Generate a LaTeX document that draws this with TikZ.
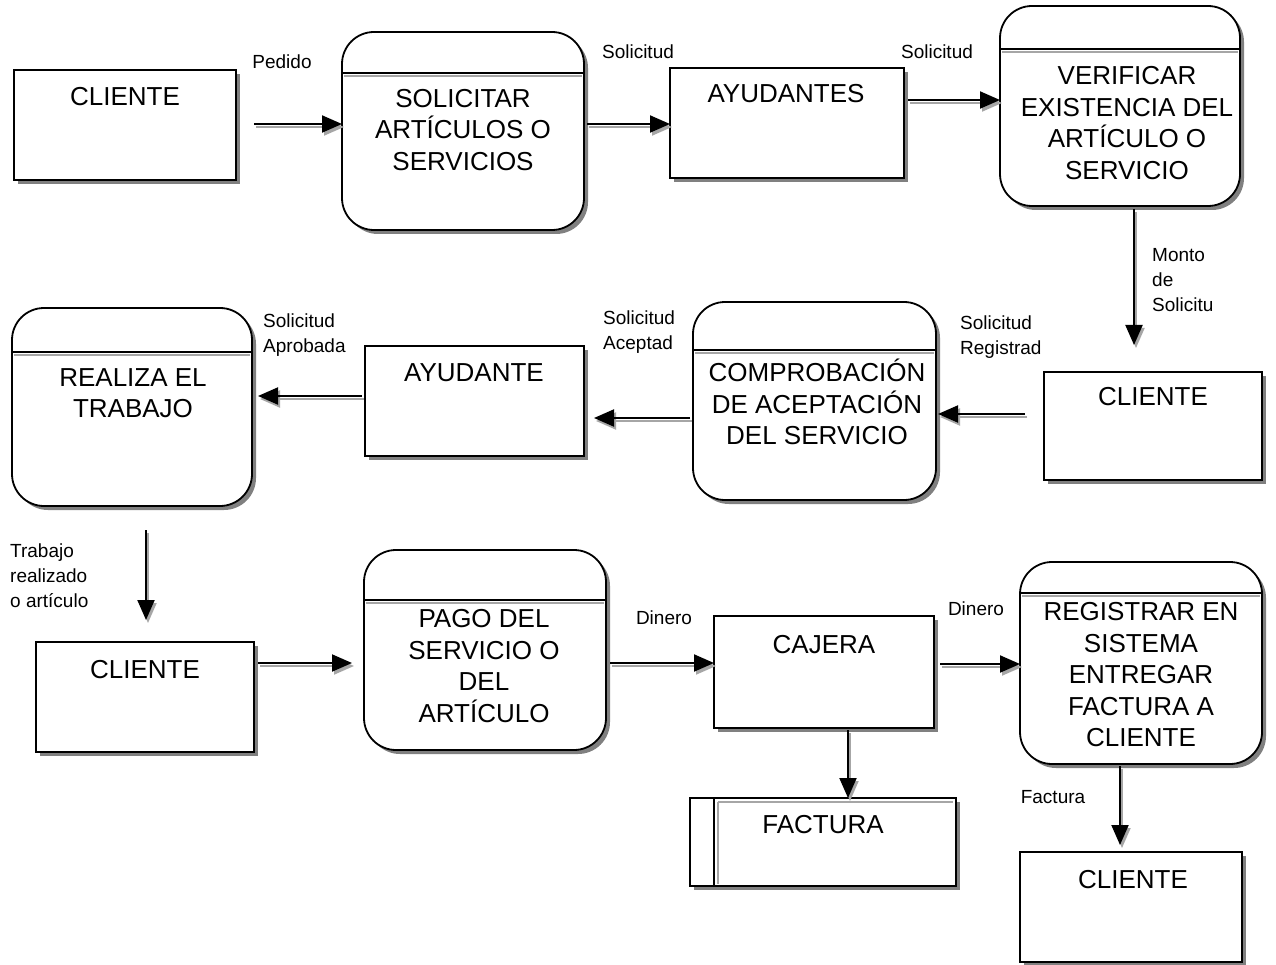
\documentclass[tikz,border=0pt]{standalone}
\usepackage{fontspec}
\setmainfont{Liberation Sans}
\usetikzlibrary{arrows.meta,shadows,calc}
\begin{document}
\begin{tikzpicture}[x=1pt,y=-1pt,
  shad/.style={drop shadow={shadow xshift=4pt,shadow yshift=-4pt,fill=black!50,opacity=1}},
  ent/.style={draw,line width=1.8pt,fill=white,shad,inner sep=0pt,outer sep=0pt},
  proc/.style={ent,rounded corners=32pt},
  txt/.style={font=\fontsize{26}{31.5}\selectfont,align=center,inner sep=0pt},
  lbl/.style={font=\fontsize{19}{25}\selectfont,align=left,inner sep=0pt},
  flow/.style={line width=2pt,-{Triangle[length=20pt,width=17pt]},
    preaction={draw=black!35,line width=2pt,transform canvas={shift={(2pt,-3pt)}}}}
]
\fill[white] (0,0) rectangle (1276,965);
\useasboundingbox (0,0) rectangle (1276,965);

% entities and processes
\node[ent,minimum width=222pt,minimum height=110pt] (c1) at (125,125) {};
\node[proc,minimum width=242pt,minimum height=198pt] (p1) at (463,131) {};
\node[ent,minimum width=234pt,minimum height=110pt] (a1) at (787,123) {};
\node[proc,minimum width=240pt,minimum height=200pt] (v1) at (1120,106) {};
\node[ent,minimum width=218pt,minimum height=108pt] (c2) at (1153,426) {};
\node[proc,minimum width=243pt,minimum height=198pt] (cp) at (814.5,401) {};
\node[ent,minimum width=219pt,minimum height=110pt] (a2) at (474.5,401) {};
\node[proc,minimum width=240pt,minimum height=198pt] (r) at (132,407) {};
\node[ent,minimum width=218pt,minimum height=110pt] (c3) at (145,697) {};
\node[proc,minimum width=242pt,minimum height=200pt] (pg) at (485,650) {};
\node[ent,minimum width=220pt,minimum height=112pt] (cj) at (824,672) {};
\node[proc,minimum width=242pt,minimum height=202pt] (rg) at (1141,663) {};
\node[ent,minimum width=266pt,minimum height=88pt] (f) at (823,842) {};
\node[ent,minimum width=222pt,minimum height=110pt] (c4) at (1131,907) {};

% process separators
\foreach \n/\o in {p1/41,v1/43,cp/48,r/44,pg/50,rg/31}{
  \draw[line width=1.6pt] ($(\n.north west)+(0,\o)$) -- ($(\n.north east)+(0,\o)$);
  \draw[black!35,line width=1.5pt] ($(\n.north west)+(2,\o+3)$) -- ($(\n.north east)+(-2,\o+3)$);
}
% data store inner line
\draw[line width=1.6pt] ($(f.north west)+(24,0)$) -- ($(f.south west)+(24,0)$);
\draw[black!35,line width=1.4pt] ($(f.north west)+(28,4)$) -- ($(f.south west)+(28,-2)$);
\draw[black!35,line width=1.4pt] ($(f.north west)+(28,4)$) -- ($(f.north east)+(-3,4)$);

% texts
\node[txt] (t1) at (125,97) {CLIENTE};
\node[txt] (t2) at (463,130) {SOLICITAR\\ARTÍCULOS O\\SERVICIOS};
\node[txt] (t3) at (786,94) {AYUDANTES};
\node[txt] (t4) at (1127,123) {VERIFICAR\\EXISTENCIA DEL\\ARTÍCULO O\\SERVICIO};
\node[txt] (t5) at (1153,397) {CLIENTE};
\node[txt] (t6) at (817,402) {COMPROBACIÓN\\DE ACEPTACIÓN\\DEL SERVICIO};
\node[txt] (t7) at (474,373) {AYUDANTE};
\node[txt] (t8) at (133,393) {REALIZA EL\\TRABAJO};
\node[txt] (t9) at (145,670) {CLIENTE};
\node[txt] (t10) at (484,666) {PAGO DEL\\SERVICIO O\\DEL\\ARTÍCULO};
\node[txt] (t11) at (824,645) {CAJERA};
\node[txt] (t12) at (1141,675) {REGISTRAR EN\\SISTEMA\\ENTREGAR\\FACTURA A\\CLIENTE};
\node[txt] (t13) at (823,825) {FACTURA};
\node[txt] (t14) at (1133,880) {CLIENTE};

% flows
\draw[flow] ($(c1.east)+(18,-1)$) coordinate (s1) -- (s1 -| p1.west);
\draw[flow] ($(p1.east)+(3,-7)$) coordinate (s2) -- (s2 -| a1.west);
\draw[flow] ($(a1.east)+(4,-23)$) coordinate (s3) -- (s3 -| v1.west);
\coordinate (e4) at ($(c2.north)+(0,-27)$);
\draw[flow] ($(v1.south)+(14,3)$) coordinate (s4) -- (s4 |- e4);
\draw[flow] ($(c2.west)+(-19,-12)$) coordinate (s5) -- ($(s5 -| cp.east)+(2,0)$);
\draw[flow] ($(cp.west)+(-3,17)$) coordinate (s6) -- ($(s6 -| a2.east)+(10,0)$);
\draw[flow] ($(a2.west)+(-3,-5)$) coordinate (s7) -- ($(s7 -| r.east)+(6,0)$);
\coordinate (e8) at ($(c3.north)+(0,-22)$);
\draw[flow] ($(r.south)+(14,24)$) coordinate (s8) -- (s8 |- e8);
\draw[flow] ($(c3.east)+(4,-34)$) coordinate (s9) -- ($(s9 -| pg.west)+(-12,0)$);
\draw[flow] ($(pg.east)+(4,13)$) coordinate (s10) -- (s10 -| cj.west);
\draw[flow] ($(cj.east)+(6,-8)$) coordinate (s11) -- (s11 -| rg.west);
\draw[flow] ($(cj.south)+(24,2)$) coordinate (s12) -- (s12 |- f.north);
\coordinate (e13) at ($(c4.north)+(0,-7)$);
\draw[flow] ($(rg.south)+(-21,2)$) coordinate (s13) -- (s13 |- e13);

% labels
\node[lbl] (l1) at (282,62) {Pedido};
\node[lbl] (l2) at (638,52) {Solicitud};
\node[lbl] (l3) at (937,52) {Solicitud};
\node[lbl,anchor=west] (l4) at (1152,280) {Monto\\de\\Solicitu};
\node[lbl,anchor=west] (l5) at (960,337) {Solicitud\\Registrad};
\node[lbl,anchor=west] (l6) at (603,332) {Solicitud\\Aceptad};
\node[lbl,anchor=west] (l7) at (263,335) {Solicitud\\Aprobada};
\node[lbl,anchor=west] (l8) at (10,576) {Trabajo\\realizado\\o artículo};
\node[lbl] (l9) at (664,618) {Dinero};
\node[lbl] (l10) at (976,609) {Dinero};
\node[lbl] (l11) at (1053,797) {Factura};
\end{tikzpicture}
\end{document}
